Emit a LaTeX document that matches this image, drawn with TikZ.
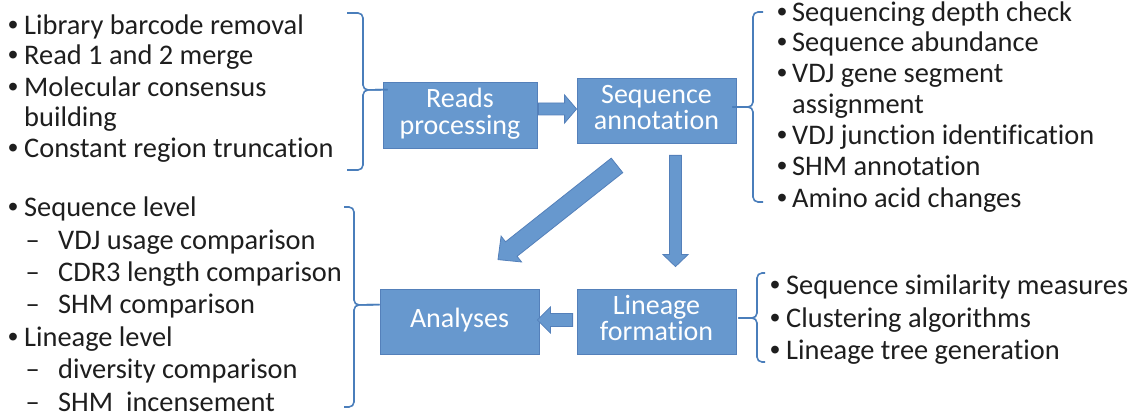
\documentclass[tikz,border=0pt]{standalone}
\usepackage{fontspec}
\setmainfont{Carlito}[Ligatures=NoCommon]
\newfontfamily\bulfont{Liberation Sans}
\usetikzlibrary{calc}
\definecolor{boxfill}{RGB}{103,152,206}
\definecolor{boxline}{RGB}{84,128,186}
\definecolor{bracecol}{RGB}{74,126,187}
\definecolor{txt}{RGB}{30,30,30}
\newcommand\tstrut{\rule{0pt}{22pt}}
\newcommand\bstrut{\rule[-9.5pt]{0pt}{9.5pt}}
\newcommand\bul[1]{\makebox[#1][l]{\bulfont •}}
\newcommand\dsh{\makebox[15pt][c]{–}\hspace{18pt}}
\newcommand\blockarrow[6]{%
  \coordinate (#1a) at #2;
  \coordinate (#1b) at #3;
  \coordinate (#1c) at ($(#1b)!#6!(#1a)$);
  \path[blockarrow] ($(#1a)!#4!90:(#1b)$) -- ($(#1c)!#4!90:(#1b)$) -- ($(#1c)!#5!90:(#1b)$) -- (#1b) -- ($(#1c)!#5!-90:(#1b)$) -- ($(#1c)!#4!-90:(#1b)$) -- ($(#1a)!#4!-90:(#1b)$) -- cycle;}
\tikzset{
  box/.style={draw=boxline, line width=0.8pt, fill=boxfill, text=white,
    font=\fontsize{28}{26.5}\selectfont, align=center, inner sep=0pt,
    minimum height=65pt, minimum width=159pt},
  item/.style={anchor=base west, inner sep=0pt, text=txt, font=\fontsize{28.4}{30}\selectfont},
  brace/.style={draw=bracecol, line width=1.6pt, rounded corners=5pt},
  blockarrow/.style={fill=boxfill, draw=boxline, line width=0.8pt, line join=miter}
}
\begin{document}
\begin{tikzpicture}[x=1pt,y=-1pt]
\useasboundingbox (0,0) rectangle (1141,419);
% boxes
\node[box, minimum width=154pt, minimum height=66pt] (reads) at (460,115) {\tstrut Reads\\processing\bstrut};
\node[box] (seq) at (656.5,110.5) {\tstrut Sequence\\annotation\bstrut};
\node[box] (ana) at (459.5,321.5) {\tstrut Analyses\bstrut};
\node[box] (lin) at (656.5,321.5) {\tstrut Lineage\\formation\bstrut};
% block arrows
\blockarrow{rs}{($(reads.east)+(1,-6)$)}{($(seq.west)+(0,-1.5)$)}{6pt}{14pt}{12pt}
\blockarrow{la}{($(lin.west)+(-4,-1.5)$)}{($(ana.east)+(-2,-1.5)$)}{6.5pt}{13pt}{13pt}
\blockarrow{sl}{($(seq.south)+(19,12)$)}{($(lin.north)+(19,-22)$)}{6pt}{12.5pt}{12pt}
\blockarrow{sa}{($(seq.south)+(-39.5,22)$)}{($(ana.north)+(38.5,-29)$)}{9.25pt}{16.5pt}{17pt}
% braces
\coordinate (t1) at ($(reads.north west)+(5,8)$);
\draw[brace] (347,13) -- (363,13) -- (363,90) -- (t1);
\draw[brace] (t1) -- (363,90) -- (363,170) -- (347,170);
\coordinate (t2) at ($(seq.east)+(-4,-3.5)$);
\draw[brace] (763,12) -- (753,12) -- (753,107) -- (t2);
\draw[brace] (t2) -- (753,107) -- (753,202) -- (763,202);
\coordinate (t3) at ($(ana.north west)+(0,16)$);
\draw[brace] (344,207) -- (354,207) -- (354,305) -- (t3);
\draw[brace] (t3) -- (354,305) -- (354,407) -- (344,407);
\coordinate (t4) at ($(lin.east)+(2,-3.5)$);
\draw[brace] (765,273) -- (757,273) -- (757,318) -- (t4);
\draw[brace] (t4) -- (757,318) -- (757,362) -- (765,362);
% top-left list
\node[item] (p1) at (8,35) {\bul{16pt}Library barcode removal};
\node[item] (p2) at (8,65) {\bul{16pt}Read 1 and 2 merge};
\node[item] (p3) at (8,96.5) {\bul{16pt}Molecular consensus};
\node[item] (p4) at (8,127) {\hspace*{16pt}building};
\node[item] (p5) at (8,158) {\bul{16pt}Constant region truncation};
% bottom-left list
\node[item] (a1) at (8,217) {\bul{16pt}Sequence level};
\node[item] (a2) at (25,250) {\dsh VDJ usage comparison};
\node[item] (a3) at (25,282) {\dsh CDR3 length comparison};
\node[item] (a4) at (25,314) {\dsh SHM comparison};
\node[item] (a5) at (8,347) {\bul{16pt}Lineage level};
\node[item] (a6) at (25,379) {\dsh diversity comparison};
\node[item] (a7) at (25,412) {\dsh SHM\ \ incensement};
% top-right list
\node[item] (s1) at (777,22) {\bul{15pt}Sequencing depth check};
\node[item] (s2) at (777,52) {\bul{15pt}Sequence abundance};
\node[item] (s3) at (777,83) {\bul{15pt}VDJ gene segment};
\node[item] (s4) at (777,114) {\hspace*{15pt}assignment};
\node[item] (s5) at (777,145) {\bul{15pt}VDJ junction identification};
\node[item] (s6) at (777,176) {\bul{15pt}SHM annotation};
\node[item] (s7) at (777,207.2) {\bul{15pt}Amino acid changes};
% bottom-right list
\node[item] (l1) at (770,295) {\bul{16pt}Sequence similarity measures};
\node[item] (l2) at (770,327.5) {\bul{16pt}Clustering algorithms};
\node[item] (l3) at (770,360) {\bul{16pt}Lineage tree generation};
\end{tikzpicture}
\end{document}
